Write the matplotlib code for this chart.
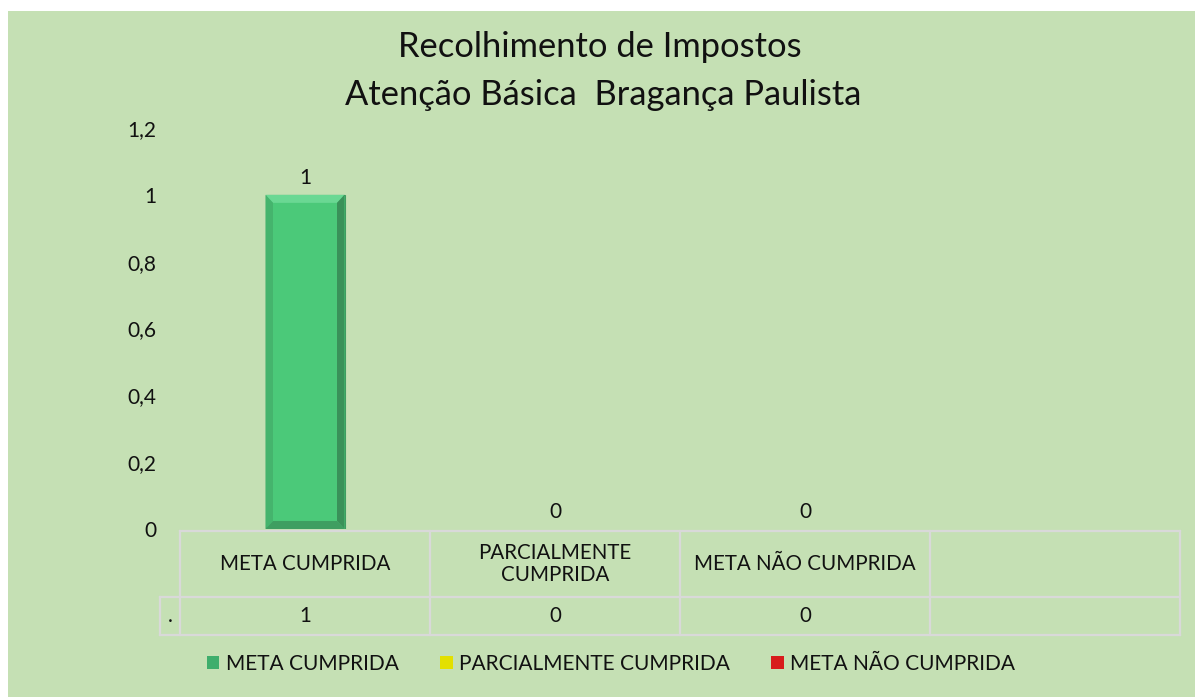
import matplotlib
matplotlib.use("Agg")
import matplotlib.pyplot as plt
from matplotlib.patches import Rectangle, Polygon, Patch
from matplotlib.transforms import blended_transform_factory
from matplotlib.ticker import FuncFormatter
import numpy as np

plt.rcParams['font.family'] = ['Lato', 'DejaVu Sans']

# ---- data ----
title_lines = ["Recolhimento de Impostos", "Atenção Básica  Bragança Paulista"]
categories = ["META CUMPRIDA", "PARCIALMENTE\nCUMPRIDA", "META NÃO CUMPRIDA", ""]
values = [1, 0, 0, None]
row_label = "."
series_names = ["META CUMPRIDA", "PARCIALMENTE CUMPRIDA", "META NÃO CUMPRIDA"]
series_colors = ["#3fae6c", "#e3e000", "#d81c1c"]
y_ticks = [0, 0.2, 0.4, 0.6, 0.8, 1.0, 1.2]

W, H = 1195, 697
fig = plt.figure(figsize=(W / 100, H / 100), dpi=100, facecolor="white")
bg = "#c5e0b4"
fig.patches.append(Rectangle((8 / W, 0), 1 - 8 / W, 1 - 11 / H, transform=fig.transFigure,
                             facecolor=bg, edgecolor="none", zorder=-10))

ax_left, ax_right = 180 / W, 1180 / W
ax_top_px, ax_bot_px = 128, 529
ax = fig.add_axes([ax_left, (H - ax_bot_px) / H, ax_right - ax_left, (ax_bot_px - ax_top_px) / H])
ax.set_facecolor("none")
for s in ax.spines.values():
    s.set_visible(False)

x = np.arange(len(categories))
ax.set_xlim(-0.5, len(categories) - 0.5)
ax.set_ylim(0, 1.2)
ax.set_yticks(y_ticks)
ax.yaxis.set_major_formatter(FuncFormatter(lambda v, p: ("%g" % v).replace(".", ",")))
ax.tick_params(axis="y", length=0, pad=17, labelsize=15, labelcolor="#111111")
ax.set_xticks([])

# bars
vals_num = [v if v is not None else 0 for v in values]
bar_w = 0.316
bars = ax.bar(x, vals_num, width=bar_w, color="#4bc979", edgecolor="none", linewidth=0, zorder=2)

# bevel effect
bx, by = 0.03, 0.024
for b in bars:
    h = b.get_height()
    if h <= 0:
        b.set_visible(False)
        continue
    b.set_edgecolor("#3f9c61")
    b.set_linewidth(0.8)
    x0, x1 = b.get_x(), b.get_x() + b.get_width()
    y0, y1 = 0, h
    ax.add_patch(Polygon([[x0, y1], [x1, y1], [x1 - bx, y1 - by], [x0 + bx, y1 - by]],
                         closed=True, facecolor="#6ad893", edgecolor="none", zorder=3))
    ax.add_patch(Polygon([[x0, y0], [x0 + bx, y0 + by], [x0 + bx, y1 - by], [x0, y1]],
                         closed=True, facecolor="#45b46d", edgecolor="none", zorder=3))
    ax.add_patch(Polygon([[x1, y0], [x1 - bx, y0 + by], [x1 - bx, y1 - by], [x1, y1]],
                         closed=True, facecolor="#3a9159", edgecolor="none", zorder=3))
    ax.add_patch(Polygon([[x0, y0], [x1, y0], [x1 - bx, y0 + by], [x0 + bx, y0 + by]],
                         closed=True, facecolor="#3f9e61", edgecolor="none", zorder=3))

# data labels
for xi, v in zip(x, values):
    if v is None:
        continue
    ax.annotate("%g" % v, (xi, v), xytext=(0, 5), textcoords="offset points",
                ha="center", va="bottom", fontsize=15, color="#111111")

# ---- data table ----
tr = blended_transform_factory(ax.transData, ax.transAxes)
ax_h_px = ax_bot_px - ax_top_px
def yf(px):
    return (ax_bot_px - px) / ax_h_px

y_top, y_mid, y_bot = yf(531), yf(597), yf(635)
x_lo = -0.5
x_hi = len(categories) - 0.5
x_lab = -0.5 - 20 / 250
lc, lw = "#d9d9d9", 1.6
kw = dict(transform=tr, color=lc, lw=lw, clip_on=False, solid_capstyle="projecting", zorder=1)
ax.plot([x_lo, x_hi], [y_top, y_top], **kw)
ax.plot([x_lab, x_hi], [y_mid, y_mid], **kw)
ax.plot([x_lab, x_hi], [y_bot, y_bot], **kw)
ax.plot([x_lab, x_lab], [y_mid, y_bot], **kw)
for k in range(len(categories) + 1):
    xb = k - 0.5
    ax.plot([xb, xb], [y_top, y_bot], **kw)

for xi, c, v in zip(x, categories, values):
    ax.text(xi, (y_top + y_mid) / 2, c, transform=tr, ha="center", va="center",
            fontsize=14.8, color="#111111", linespacing=1.15)
    if v is not None:
        ax.text(xi, (y_mid + y_bot) / 2, "%g" % v, transform=tr, ha="center", va="center",
                fontsize=14.8, color="#111111")
ax.text((x_lab + x_lo) / 2, (y_mid + y_bot) / 2, row_label, transform=tr, ha="center",
        va="center", fontsize=14.8, color="#111111")

# ---- title ----
fig.text(600 / W, 1 - 47 / H, title_lines[0], ha="center", va="center", fontsize=24.8, color="#111111")
fig.text(603 / W, 1 - 95 / H, title_lines[1], ha="center", va="center", fontsize=24.8, color="#111111")

# ---- legend ----
handles = [Patch(facecolor=c, edgecolor="none") for c in series_colors]
fig.legend(handles, series_names, loc="center", bbox_to_anchor=(611 / W, 1 - 664 / H),
           ncol=3, frameon=False, fontsize=15, handlelength=0.6, handleheight=0.6,
           handletextpad=0.3, columnspacing=2.0, labelcolor="#111111")

fig.savefig("out.png", dpi=100, facecolor=fig.get_facecolor())
